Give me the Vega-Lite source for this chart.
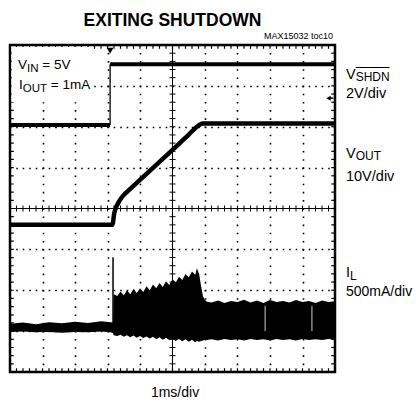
{
  "$schema": "https://vega.github.io/schema/vega-lite/v6.json",
  "width": 325,
  "height": 327,
  "autosize": {"type": "none"},
  "padding": {"left": 10, "top": 45, "right": 81, "bottom": 32},
  "background": "white",
  "config": {"view": {"stroke": "black", "strokeWidth": 2.5}},
  "data": {"values": [{"a": 0}]},
  "datasets": {
    "mx": [{"p":0.2},{"p":0.4},{"p":0.6},{"p":0.8},{"p":1},{"p":1.2},{"p":1.4},{"p":1.6},{"p":1.8},{"p":2},{"p":2.2},{"p":2.4},{"p":2.6},{"p":2.8},{"p":3},{"p":3.2},{"p":3.4},{"p":3.6},{"p":3.8},{"p":4},{"p":4.2},{"p":4.4},{"p":4.6},{"p":4.8},{"p":5},{"p":5.2},{"p":5.4},{"p":5.6},{"p":5.8},{"p":6},{"p":6.2},{"p":6.4},{"p":6.6},{"p":6.8},{"p":7},{"p":7.2},{"p":7.4},{"p":7.6},{"p":7.8},{"p":8},{"p":8.2},{"p":8.4},{"p":8.6},{"p":8.8},{"p":9},{"p":9.2},{"p":9.4},{"p":9.6},{"p":9.8}],
    "my": [{"p":0.2},{"p":0.4},{"p":0.6},{"p":0.8},{"p":1},{"p":1.2},{"p":1.4},{"p":1.6},{"p":1.8},{"p":2},{"p":2.2},{"p":2.4},{"p":2.6},{"p":2.8},{"p":3},{"p":3.2},{"p":3.4},{"p":3.6},{"p":3.8},{"p":4},{"p":4.2},{"p":4.4},{"p":4.6},{"p":4.8},{"p":5},{"p":5.2},{"p":5.4},{"p":5.6},{"p":5.8},{"p":6},{"p":6.2},{"p":6.4},{"p":6.6},{"p":6.8},{"p":7},{"p":7.2},{"p":7.4},{"p":7.6},{"p":7.8}],
    "shdn": [
      {"t": 0, "v": 6.04, "s": "low"}, {"t": 3.08, "v": 6.04, "s": "low"},
      {"t": 3.08, "v": 7.53, "s": "high"}, {"t": 10, "v": 7.53, "s": "high"}
    ],
    "vout": [
      {"t": 0, "v": 3.6}, {"t": 3.15, "v": 3.6}, {"t": 3.17, "v": 3.66}, {"t": 3.2, "v": 3.85},
      {"t": 3.25, "v": 4.0}, {"t": 3.32, "v": 4.12}, {"t": 3.42, "v": 4.25}, {"t": 3.55, "v": 4.37},
      {"t": 3.7, "v": 4.48}, {"t": 3.85, "v": 4.59}, {"t": 4.0, "v": 4.7}, {"t": 4.3, "v": 4.92},
      {"t": 4.6, "v": 5.14}, {"t": 4.9, "v": 5.36}, {"t": 5.2, "v": 5.58}, {"t": 5.5, "v": 5.81},
      {"t": 5.8, "v": 6.03}, {"t": 5.92, "v": 6.08}, {"t": 10, "v": 6.08}
    ],
    "il": [
      {"t": 0, "hi": 1.18, "lo": 0.98}, {"t": 0.4, "hi": 1.21, "lo": 0.99}, {"t": 0.8, "hi": 1.17, "lo": 0.97},
      {"t": 1.2, "hi": 1.22, "lo": 0.98}, {"t": 1.6, "hi": 1.19, "lo": 0.96}, {"t": 2.0, "hi": 1.23, "lo": 0.98},
      {"t": 2.4, "hi": 1.2, "lo": 0.97}, {"t": 2.8, "hi": 1.24, "lo": 0.99}, {"t": 3.1, "hi": 1.22, "lo": 0.97},
      {"t": 3.17, "hi": 1.22, "lo": 0.95}, {"t": 3.19, "hi": 1.9, "lo": 0.9},
      {"t": 3.3, "hi": 1.86, "lo": 0.88}, {"t": 3.4, "hi": 1.97, "lo": 0.91}, {"t": 3.5, "hi": 1.88, "lo": 0.86},
      {"t": 3.6, "hi": 2.0, "lo": 0.9}, {"t": 3.7, "hi": 1.9, "lo": 0.85}, {"t": 3.8, "hi": 2.03, "lo": 0.89},
      {"t": 3.9, "hi": 1.93, "lo": 0.84}, {"t": 4.0, "hi": 2.05, "lo": 0.88}, {"t": 4.1, "hi": 1.96, "lo": 0.83},
      {"t": 4.2, "hi": 2.1, "lo": 0.87}, {"t": 4.3, "hi": 2.0, "lo": 0.82}, {"t": 4.4, "hi": 2.14, "lo": 0.86},
      {"t": 4.5, "hi": 2.05, "lo": 0.8}, {"t": 4.6, "hi": 2.18, "lo": 0.85}, {"t": 4.7, "hi": 2.08, "lo": 0.79},
      {"t": 4.8, "hi": 2.22, "lo": 0.84}, {"t": 4.9, "hi": 2.13, "lo": 0.78}, {"t": 5.0, "hi": 2.27, "lo": 0.82},
      {"t": 5.1, "hi": 2.19, "lo": 0.76}, {"t": 5.2, "hi": 2.33, "lo": 0.81}, {"t": 5.3, "hi": 2.25, "lo": 0.75},
      {"t": 5.4, "hi": 2.4, "lo": 0.8}, {"t": 5.5, "hi": 2.32, "lo": 0.74}, {"t": 5.6, "hi": 2.46, "lo": 0.79},
      {"t": 5.7, "hi": 2.38, "lo": 0.73}, {"t": 5.75, "hi": 2.54, "lo": 0.76}, {"t": 5.82, "hi": 2.4, "lo": 0.74},
      {"t": 5.88, "hi": 2.1, "lo": 0.76}, {"t": 5.94, "hi": 1.85, "lo": 0.77}, {"t": 6.0, "hi": 1.76, "lo": 0.79},
      {"t": 6.06, "hi": 1.72, "lo": 0.78}, {"t": 6.2, "hi": 1.7, "lo": 0.8}, {"t": 6.4, "hi": 1.75, "lo": 0.77},
      {"t": 6.6, "hi": 1.69, "lo": 0.81}, {"t": 6.8, "hi": 1.74, "lo": 0.78}, {"t": 7.0, "hi": 1.71, "lo": 0.8},
      {"t": 7.2, "hi": 1.77, "lo": 0.77}, {"t": 7.4, "hi": 1.7, "lo": 0.81}, {"t": 7.6, "hi": 1.75, "lo": 0.78},
      {"t": 7.8, "hi": 1.69, "lo": 0.8}, {"t": 8.0, "hi": 1.76, "lo": 0.77}, {"t": 8.2, "hi": 1.71, "lo": 0.81},
      {"t": 8.4, "hi": 1.74, "lo": 0.78}, {"t": 8.6, "hi": 1.7, "lo": 0.8}, {"t": 8.8, "hi": 1.76, "lo": 0.77},
      {"t": 9.0, "hi": 1.71, "lo": 0.81}, {"t": 9.2, "hi": 1.74, "lo": 0.78}, {"t": 9.4, "hi": 1.69, "lo": 0.8},
      {"t": 9.6, "hi": 1.75, "lo": 0.78}, {"t": 9.8, "hi": 1.71, "lo": 0.81}, {"t": 10, "hi": 1.73, "lo": 0.79}
    ]
  },
  "resolve": {"scale": {"x": "independent", "y": "independent"}, "axis": {"x": "independent", "y": "independent"}},
  "layer": [
    {
      "mark": {"type": "point", "opacity": 0},
      "encoding": {
        "x": {"field": "a", "type": "quantitative", "scale": {"domain": [0, 10], "nice": false, "zero": false},
          "axis": {"orient": "bottom", "values": [1, 2, 3, 4, 6, 7, 8, 9], "grid": true, "gridDash": [1.6, 6.575], "gridDashOffset": 0.8, "gridColor": "black", "gridWidth": 1.6, "gridOpacity": 1, "ticks": false, "labels": false, "domain": false, "title": null}},
        "y": {"field": "a", "type": "quantitative", "scale": {"domain": [0, 8], "nice": false, "zero": false},
          "axis": {"orient": "left", "values": [1, 2, 3, 5, 6, 7], "grid": true, "gridDash": [1.6, 4.9], "gridDashOffset": 0.8, "gridColor": "black", "gridWidth": 1.6, "gridOpacity": 1, "ticks": false, "labels": false, "domain": false, "title": null}}
      }
    },
    {
      "mark": {"type": "rule", "color": "black", "strokeWidth": 1},
      "encoding": {
        "x": {"datum": 5, "type": "quantitative", "scale": {"domain": [0, 10], "nice": false, "zero": false}, "axis": null},
        "y": {"datum": 0, "type": "quantitative", "scale": {"domain": [0, 8], "nice": false, "zero": false}, "axis": null},
        "y2": {"datum": 8}
      }
    },
    {
      "mark": {"type": "rule", "color": "black", "strokeWidth": 1},
      "encoding": {
        "x": {"datum": 0, "type": "quantitative", "scale": {"domain": [0, 10], "nice": false, "zero": false}, "axis": null},
        "x2": {"datum": 10},
        "y": {"datum": 4, "type": "quantitative", "scale": {"domain": [0, 8], "nice": false, "zero": false}, "axis": null}
      }
    },
    {
      "data": {"name": "mx"},
      "mark": {"type": "tick", "orient": "vertical", "size": 6, "thickness": 1, "color": "black", "opacity": 1},
      "encoding": {
        "x": {"field": "p", "type": "quantitative", "scale": {"domain": [0, 10], "nice": false, "zero": false}, "axis": null},
        "y": {"datum": 4, "type": "quantitative", "scale": {"domain": [0, 8], "nice": false, "zero": false}, "axis": null}
      }
    },
    {
      "data": {"name": "my"},
      "mark": {"type": "tick", "orient": "horizontal", "size": 6, "thickness": 1, "color": "black", "opacity": 1},
      "encoding": {
        "x": {"datum": 5, "type": "quantitative", "scale": {"domain": [0, 10], "nice": false, "zero": false}, "axis": null},
        "y": {"field": "p", "type": "quantitative", "scale": {"domain": [0, 8], "nice": false, "zero": false}, "axis": null}
      }
    },
    {
      "data": {"name": "mx"},
      "mark": {"type": "tick", "orient": "vertical", "size": 3.5, "thickness": 1.2, "color": "black", "opacity": 1},
      "encoding": {
        "x": {"field": "p", "type": "quantitative", "scale": {"domain": [0, 10], "nice": false, "zero": false}, "axis": null},
        "y": {"datum": 0.05, "type": "quantitative", "scale": {"domain": [0, 8], "nice": false, "zero": false}, "axis": null}
      }
    },
    {
      "data": {"name": "mx"},
      "mark": {"type": "tick", "orient": "vertical", "size": 3.5, "thickness": 1.2, "color": "black", "opacity": 1},
      "encoding": {
        "x": {"field": "p", "type": "quantitative", "scale": {"domain": [0, 10], "nice": false, "zero": false}, "axis": null},
        "y": {"datum": 7.95, "type": "quantitative", "scale": {"domain": [0, 8], "nice": false, "zero": false}, "axis": null}
      }
    },
    {
      "data": {"name": "my"},
      "mark": {"type": "tick", "orient": "horizontal", "size": 3.5, "thickness": 1.2, "color": "black", "opacity": 1},
      "encoding": {
        "x": {"datum": 0.062, "type": "quantitative", "scale": {"domain": [0, 10], "nice": false, "zero": false}, "axis": null},
        "y": {"field": "p", "type": "quantitative", "scale": {"domain": [0, 8], "nice": false, "zero": false}, "axis": null}
      }
    },
    {
      "data": {"name": "my"},
      "mark": {"type": "tick", "orient": "horizontal", "size": 3.5, "thickness": 1.2, "color": "black", "opacity": 1},
      "encoding": {
        "x": {"datum": 9.938, "type": "quantitative", "scale": {"domain": [0, 10], "nice": false, "zero": false}, "axis": null},
        "y": {"field": "p", "type": "quantitative", "scale": {"domain": [0, 8], "nice": false, "zero": false}, "axis": null}
      }
    },
    {
      "mark": {"type": "rect", "color": "white"},
      "encoding": {
        "x": {"datum": 0.05, "type": "quantitative", "scale": {"domain": [0, 10], "nice": false, "zero": false}, "axis": null},
        "x2": {"datum": 2.55},
        "y": {"datum": 6.6, "type": "quantitative", "scale": {"domain": [0, 8], "nice": false, "zero": false}, "axis": null},
        "y2": {"datum": 7.95}
      }
    },
    {
      "data": {"name": "il"},
      "mark": {"type": "area", "color": "black", "opacity": 1},
      "encoding": {
        "x": {"field": "t", "type": "quantitative", "scale": {"domain": [0, 10], "nice": false, "zero": false}, "axis": null},
        "y": {"field": "hi", "type": "quantitative", "scale": {"domain": [0, 8], "nice": false, "zero": false}, "axis": null},
        "y2": {"field": "lo"}
      }
    },
    {
      "mark": {"type": "rule", "color": "black", "strokeWidth": 1.5},
      "encoding": {
        "x": {"datum": 3.17, "type": "quantitative", "scale": {"domain": [0, 10], "nice": false, "zero": false}, "axis": null},
        "y": {"datum": 1.2, "type": "quantitative", "scale": {"domain": [0, 8], "nice": false, "zero": false}, "axis": null},
        "y2": {"datum": 2.81}
      }
    },
    {
      "mark": {"type": "rule", "color": "white", "strokeWidth": 0.8},
      "encoding": {
        "x": {"datum": 7.85, "type": "quantitative", "scale": {"domain": [0, 10], "nice": false, "zero": false}, "axis": null},
        "y": {"datum": 1.0, "type": "quantitative", "scale": {"domain": [0, 8], "nice": false, "zero": false}, "axis": null},
        "y2": {"datum": 1.62}
      }
    },
    {
      "mark": {"type": "rule", "color": "white", "strokeWidth": 0.8},
      "encoding": {
        "x": {"datum": 9.29, "type": "quantitative", "scale": {"domain": [0, 10], "nice": false, "zero": false}, "axis": null},
        "y": {"datum": 1.0, "type": "quantitative", "scale": {"domain": [0, 8], "nice": false, "zero": false}, "axis": null},
        "y2": {"datum": 1.62}
      }
    },
    {
      "data": {"name": "vout"},
      "mark": {"type": "line", "color": "black", "strokeWidth": 4.5, "interpolate": "monotone"},
      "encoding": {
        "x": {"field": "t", "type": "quantitative", "scale": {"domain": [0, 10], "nice": false, "zero": false}, "axis": null},
        "y": {"field": "v", "type": "quantitative", "scale": {"domain": [0, 8], "nice": false, "zero": false}, "axis": null}
      }
    },
    {
      "data": {"name": "shdn"},
      "mark": {"type": "line", "color": "black", "strokeWidth": 4},
      "encoding": {
        "x": {"field": "t", "type": "quantitative", "scale": {"domain": [0, 10], "nice": false, "zero": false}, "axis": null},
        "y": {"field": "v", "type": "quantitative", "scale": {"domain": [0, 8], "nice": false, "zero": false}, "axis": null},
        "detail": {"field": "s"}
      }
    },
    {
      "mark": {"type": "rule", "color": "black", "strokeWidth": 1.3},
      "encoding": {
        "x": {"datum": 3.08, "type": "quantitative", "scale": {"domain": [0, 10], "nice": false, "zero": false}, "axis": null},
        "y": {"datum": 6.04, "type": "quantitative", "scale": {"domain": [0, 8], "nice": false, "zero": false}, "axis": null},
        "y2": {"datum": 7.53}
      }
    },
    {
      "mark": {"type": "point", "shape": "triangle-down", "filled": true, "color": "black", "size": 45, "opacity": 1},
      "encoding": {
        "x": {"datum": 3.08, "type": "quantitative", "scale": {"domain": [0, 10], "nice": false, "zero": false}, "axis": null},
        "y": {"datum": 7.86, "type": "quantitative", "scale": {"domain": [0, 8], "nice": false, "zero": false}, "axis": null}
      }
    },
    {
      "mark": {"type": "point", "shape": "triangle-left", "filled": true, "color": "black", "size": 25, "opacity": 1},
      "encoding": {
        "x": {"datum": 9.8, "type": "quantitative", "scale": {"domain": [0, 10], "nice": false, "zero": false}, "axis": null},
        "y": {"datum": 6.7, "type": "quantitative", "scale": {"domain": [0, 8], "nice": false, "zero": false}, "axis": null}
      }
    },
    {
      "mark": {"type": "rule", "color": "black", "strokeWidth": 1.5},
      "encoding": {
        "x": {"datum": 9.8, "type": "quantitative", "scale": {"domain": [0, 10], "nice": false, "zero": false}, "axis": null},
        "x2": {"datum": 9.95},
        "y": {"datum": 6.7, "type": "quantitative", "scale": {"domain": [0, 8], "nice": false, "zero": false}, "axis": null}
      }
    },
    {
      "mark": {"type": "text", "text": "EXITING SHUTDOWN", "font": "Liberation Sans", "fontWeight": "bold", "fontSize": 17.5, "align": "center", "baseline": "alphabetic", "color": "black"},
      "encoding": {
        "x": {"datum": 5.0, "type": "quantitative", "scale": {"domain": [0, 10], "nice": false, "zero": false}, "axis": null},
        "y": {"datum": 8.465, "type": "quantitative", "scale": {"domain": [0, 8], "nice": false, "zero": false}, "axis": null}
      }
    },
    {
      "mark": {"type": "text", "text": "MAX15032 toc10", "font": "Liberation Sans", "fontSize": 9, "align": "right", "baseline": "alphabetic", "color": "black"},
      "encoding": {
        "x": {"datum": 9.938, "type": "quantitative", "scale": {"domain": [0, 10], "nice": false, "zero": false}, "axis": null},
        "y": {"datum": 8.147, "type": "quantitative", "scale": {"domain": [0, 8], "nice": false, "zero": false}, "axis": null}
      }
    },
    {
      "mark": {"type": "text", "text": "V", "font": "Liberation Sans", "fontSize": 14.5, "align": "left", "baseline": "alphabetic", "color": "black"},
      "encoding": {
        "x": {"datum": 10.338, "type": "quantitative", "scale": {"domain": [0, 10], "nice": false, "zero": false}, "axis": null},
        "y": {"datum": 7.168, "type": "quantitative", "scale": {"domain": [0, 8], "nice": false, "zero": false}, "axis": null}
      }
    },
    {
      "mark": {"type": "text", "text": "SHDN", "font": "Liberation Sans", "fontSize": 12, "align": "left", "baseline": "alphabetic", "color": "black"},
      "encoding": {
        "x": {"datum": 10.637, "type": "quantitative", "scale": {"domain": [0, 10], "nice": false, "zero": false}, "axis": null},
        "y": {"datum": 7.119, "type": "quantitative", "scale": {"domain": [0, 8], "nice": false, "zero": false}, "axis": null}
      }
    },
    {
      "mark": {"type": "rule", "color": "black", "strokeWidth": 1.2},
      "encoding": {
        "x": {"datum": 10.64, "type": "quantitative", "scale": {"domain": [0, 10], "nice": false, "zero": false}, "axis": null},
        "x2": {"datum": 11.68},
        "y": {"datum": 7.45, "type": "quantitative", "scale": {"domain": [0, 8], "nice": false, "zero": false}, "axis": null}
      }
    },
    {
      "mark": {"type": "text", "text": "2V/div", "font": "Liberation Sans", "fontSize": 14.5, "align": "left", "baseline": "alphabetic", "color": "black"},
      "encoding": {
        "x": {"datum": 10.338, "type": "quantitative", "scale": {"domain": [0, 10], "nice": false, "zero": false}, "axis": null},
        "y": {"datum": 6.703, "type": "quantitative", "scale": {"domain": [0, 8], "nice": false, "zero": false}, "axis": null}
      }
    },
    {
      "mark": {"type": "text", "text": "V", "font": "Liberation Sans", "fontSize": 14.5, "align": "left", "baseline": "alphabetic", "color": "black"},
      "encoding": {
        "x": {"datum": 10.338, "type": "quantitative", "scale": {"domain": [0, 10], "nice": false, "zero": false}, "axis": null},
        "y": {"datum": 5.235, "type": "quantitative", "scale": {"domain": [0, 8], "nice": false, "zero": false}, "axis": null}
      }
    },
    {
      "mark": {"type": "text", "text": "OUT", "font": "Liberation Sans", "fontSize": 12, "align": "left", "baseline": "alphabetic", "color": "black"},
      "encoding": {
        "x": {"datum": 10.637, "type": "quantitative", "scale": {"domain": [0, 10], "nice": false, "zero": false}, "axis": null},
        "y": {"datum": 5.187, "type": "quantitative", "scale": {"domain": [0, 8], "nice": false, "zero": false}, "axis": null}
      }
    },
    {
      "mark": {"type": "text", "text": "10V/div", "font": "Liberation Sans", "fontSize": 14.5, "align": "left", "baseline": "alphabetic", "color": "black"},
      "encoding": {
        "x": {"datum": 10.338, "type": "quantitative", "scale": {"domain": [0, 10], "nice": false, "zero": false}, "axis": null},
        "y": {"datum": 4.673, "type": "quantitative", "scale": {"domain": [0, 8], "nice": false, "zero": false}, "axis": null}
      }
    },
    {
      "mark": {"type": "text", "text": "I", "font": "Liberation Sans", "fontSize": 14.5, "align": "left", "baseline": "alphabetic", "color": "black"},
      "encoding": {
        "x": {"datum": 10.338, "type": "quantitative", "scale": {"domain": [0, 10], "nice": false, "zero": false}, "axis": null},
        "y": {"datum": 2.324, "type": "quantitative", "scale": {"domain": [0, 8], "nice": false, "zero": false}, "axis": null}
      }
    },
    {
      "mark": {"type": "text", "text": "L", "font": "Liberation Sans", "fontSize": 12, "align": "left", "baseline": "alphabetic", "color": "black"},
      "encoding": {
        "x": {"datum": 10.462, "type": "quantitative", "scale": {"domain": [0, 10], "nice": false, "zero": false}, "axis": null},
        "y": {"datum": 2.251, "type": "quantitative", "scale": {"domain": [0, 8], "nice": false, "zero": false}, "axis": null}
      }
    },
    {
      "mark": {"type": "text", "text": "500mA/div", "font": "Liberation Sans", "fontSize": 14, "align": "left", "baseline": "alphabetic", "color": "black"},
      "encoding": {
        "x": {"datum": 10.338, "type": "quantitative", "scale": {"domain": [0, 10], "nice": false, "zero": false}, "axis": null},
        "y": {"datum": 1.859, "type": "quantitative", "scale": {"domain": [0, 8], "nice": false, "zero": false}, "axis": null}
      }
    },
    {
      "mark": {"type": "text", "text": "1ms/div", "font": "Liberation Sans", "fontSize": 14, "align": "center", "baseline": "alphabetic", "color": "black"},
      "encoding": {
        "x": {"datum": 5.077, "type": "quantitative", "scale": {"domain": [0, 10], "nice": false, "zero": false}, "axis": null},
        "y": {"datum": -0.612, "type": "quantitative", "scale": {"domain": [0, 8], "nice": false, "zero": false}, "axis": null}
      }
    },
    {
      "mark": {"type": "text", "text": "V", "font": "Liberation Sans", "fontSize": 13.5, "align": "left", "baseline": "alphabetic", "color": "black"},
      "encoding": {
        "x": {"datum": 0.246, "type": "quantitative", "scale": {"domain": [0, 10], "nice": false, "zero": false}, "axis": null},
        "y": {"datum": 7.413, "type": "quantitative", "scale": {"domain": [0, 8], "nice": false, "zero": false}, "axis": null}
      }
    },
    {
      "mark": {"type": "text", "text": "IN", "font": "Liberation Sans", "fontSize": 11.5, "align": "left", "baseline": "alphabetic", "color": "black"},
      "encoding": {
        "x": {"datum": 0.523, "type": "quantitative", "scale": {"domain": [0, 10], "nice": false, "zero": false}, "axis": null},
        "y": {"datum": 7.339, "type": "quantitative", "scale": {"domain": [0, 8], "nice": false, "zero": false}, "axis": null}
      }
    },
    {
      "mark": {"type": "text", "text": "= 5V", "font": "Liberation Sans", "fontSize": 13.5, "align": "left", "baseline": "alphabetic", "color": "black"},
      "encoding": {
        "x": {"datum": 0.994, "type": "quantitative", "scale": {"domain": [0, 10], "nice": false, "zero": false}, "axis": null},
        "y": {"datum": 7.413, "type": "quantitative", "scale": {"domain": [0, 8], "nice": false, "zero": false}, "axis": null}
      }
    },
    {
      "mark": {"type": "text", "text": "I", "font": "Liberation Sans", "fontSize": 13.5, "align": "left", "baseline": "alphabetic", "color": "black"},
      "encoding": {
        "x": {"datum": 0.277, "type": "quantitative", "scale": {"domain": [0, 10], "nice": false, "zero": false}, "axis": null},
        "y": {"datum": 6.924, "type": "quantitative", "scale": {"domain": [0, 8], "nice": false, "zero": false}, "axis": null}
      }
    },
    {
      "mark": {"type": "text", "text": "OUT", "font": "Liberation Sans", "fontSize": 11.5, "align": "left", "baseline": "alphabetic", "color": "black"},
      "encoding": {
        "x": {"datum": 0.392, "type": "quantitative", "scale": {"domain": [0, 10], "nice": false, "zero": false}, "axis": null},
        "y": {"datum": 6.85, "type": "quantitative", "scale": {"domain": [0, 8], "nice": false, "zero": false}, "axis": null}
      }
    },
    {
      "mark": {"type": "text", "text": "= 1mA", "font": "Liberation Sans", "fontSize": 13.5, "align": "left", "baseline": "alphabetic", "color": "black"},
      "encoding": {
        "x": {"datum": 1.255, "type": "quantitative", "scale": {"domain": [0, 10], "nice": false, "zero": false}, "axis": null},
        "y": {"datum": 6.924, "type": "quantitative", "scale": {"domain": [0, 8], "nice": false, "zero": false}, "axis": null}
      }
    }
  ]
}
